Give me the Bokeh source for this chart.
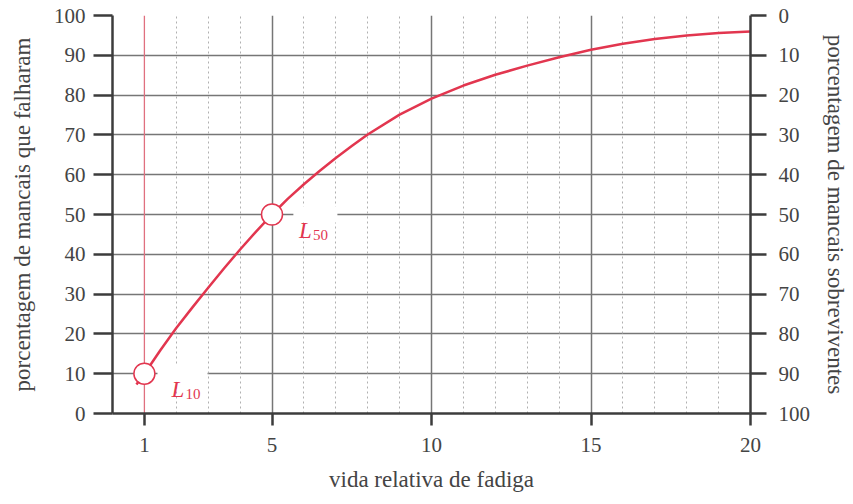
from bokeh.plotting import figure
from bokeh.models import Range1d, LinearAxis, FixedTicker, Grid
from bokeh.core.properties import value
from bokeh.embed import file_html
from bokeh.resources import INLINE

# ---- data ----
life_x = [0.75, 1.0, 1.5, 2.0, 2.5, 3.0, 3.5, 4.0, 4.5, 5.0, 5.5, 6.0, 6.5, 7.0, 7.5, 8.0,
          9.0, 10.0, 11.0, 12.0, 13.0, 14.0, 15.0, 16.0, 17.0, 18.0, 19.0, 20.0]
failed_y = [7.3, 10.0, 15.9, 21.5, 26.6, 31.6, 36.5, 41.2, 45.7, 50.0, 54.0, 57.6, 61.0, 64.2,
            67.2, 70.1, 75.1, 79.1, 82.4, 85.1, 87.4, 89.5, 91.4, 92.9, 94.1, 95.0, 95.6, 96.0]
marker_x = [1, 5]
marker_y = [10, 50]
marker_main = ["L", "L"]
marker_sub = ["10", "50"]
x_ticks = [1, 5, 10, 15, 20]
x_major_grid = [5, 10, 15]
x_minor_grid = [2, 3, 4, 6, 7, 8, 9, 11, 12, 13, 14, 16, 17, 18, 19]
y_ticks = [0, 10, 20, 30, 40, 50, 60, 70, 80, 90, 100]
y_grid = [10, 20, 30, 40, 50, 60, 70, 80, 90, 100]
l10_line = 1
gap_left = [1.41, 5.67]
gap_right = [2.98, 7.05]
gap_bottom = [8.0, 48.0]
gap_top = [12.0, 52.0]

RED = "#e2364f"
AX = "#3c3c3c"
GRID = "#767676"
FONT = "Liberation Serif"
TXT = "#444444"

p = figure(width=853, height=504, output_backend="svg", toolbar_location=None,
           x_range=Range1d(0, 20), y_range=Range1d(0, 100),
           min_border_left=112, min_border_right=103, min_border_top=15, min_border_bottom=91)
p.outline_line_color = None
p.background_fill_color = "white"

# grids
p.xgrid.ticker = FixedTicker(ticks=x_major_grid)
p.xgrid.grid_line_color = GRID
p.xgrid.grid_line_width = 1.5
p.ygrid.ticker = FixedTicker(ticks=y_grid)
p.ygrid.grid_line_color = GRID
p.ygrid.grid_line_width = 1.5
minor = Grid(dimension=0, ticker=FixedTicker(ticks=x_minor_grid),
             grid_line_color="#b0b0b0", grid_line_width=1, grid_line_dash="2 3")
p.add_layout(minor)

# axes
def style_axis(ax, tick_out, standoff, title_standoff):
    ax.axis_line_color = AX
    ax.axis_line_width = 2.5
    ax.major_tick_line_color = AX
    ax.major_tick_line_width = 2.5
    ax.major_tick_out = tick_out
    ax.major_tick_in = 0
    ax.minor_tick_line_color = None
    ax.major_label_text_font = FONT
    ax.major_label_text_font_size = "21px"
    ax.major_label_text_color = TXT
    ax.major_label_standoff = standoff
    ax.axis_label_text_font = FONT
    ax.axis_label_text_font_size = "23px"
    ax.axis_label_text_font_style = "normal"
    ax.axis_label_text_color = TXT
    ax.axis_label_standoff = title_standoff

p.xaxis.ticker = FixedTicker(ticks=x_ticks)
p.xaxis.axis_label = "vida relativa de fadiga"
style_axis(p.xaxis[0], 12, 12, 12)

p.yaxis.ticker = FixedTicker(ticks=y_ticks)
p.yaxis.axis_label = "porcentagem de mancais que falharam"
style_axis(p.yaxis[0], 19, 8, 16)

p.extra_y_ranges = {"surv": Range1d(100, 0)}
right = LinearAxis(y_range_name="surv", ticker=FixedTicker(ticks=y_ticks),
                   axis_label="porcentagem de mancais sobreviventes")
style_axis(right, 16, 12, 10)
p.add_layout(right, "right")

# white gaps behind labels
p.quad(left=gap_left, right=gap_right, bottom=gap_bottom, top=gap_top,
       fill_color="white", line_color=None)

# L10 vertical line
p.segment(x0=[l10_line], y0=[0], x1=[l10_line], y1=[100], line_color="#e0707f", line_width=1.3)

# curve
p.line(life_x, failed_y, line_color=RED, line_width=2.5, line_join="round")

# markers
p.scatter(marker_x, marker_y, size=21, fill_color="white", line_color=RED, line_width=1.5)

# labels
p.text(marker_x, marker_y, text=marker_main, x_offset=27, y_offset=16,
       text_font=value(FONT), text_font_style="italic", text_font_size="23px",
       text_color=RED, text_baseline="alphabetic", text_align="left")
p.text(marker_x, marker_y, text=marker_sub, x_offset=41, y_offset=20,
       text_font=value(FONT), text_font_size="15px",
       text_color=RED, text_baseline="alphabetic", text_align="left")

open("out.html", "w").write(file_html(p, INLINE))
